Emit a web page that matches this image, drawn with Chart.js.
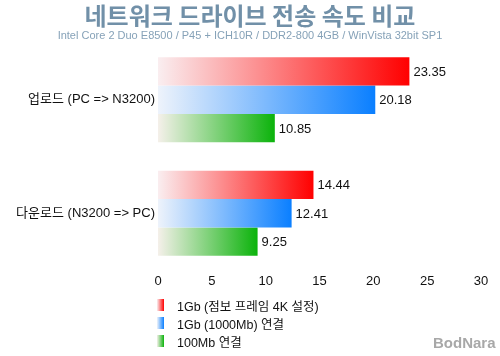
<!DOCTYPE html>
<html><head><meta charset="utf-8">
<script src="https://cdn.jsdelivr.net/npm/chart.js@4"></script>
<style>
html,body{margin:0;padding:0;background:#fff;}
#wrap{position:relative;width:500px;height:356px;overflow:hidden;font-family:"Liberation Sans","Noto Sans CJK KR",sans-serif;}
#c{position:absolute;left:0;top:0;}
#title{position:absolute;left:0;width:500px;top:1px;text-align:center;font:bold 24px "Noto Sans CJK KR","Liberation Sans",sans-serif;color:#7190a8;line-height:28px;height:28px;}
#sub{position:absolute;left:0;width:500px;top:29px;text-align:center;font:11px "Liberation Sans",sans-serif;color:#86a2b8;line-height:13px;}
#legend{position:absolute;left:157px;top:296px;font:12.5px "Liberation Sans","Noto Sans CJK KR",sans-serif;color:#111;}
.li{height:18px;display:flex;align-items:center;}
.sw{width:7px;height:12px;margin-right:13px;}
#wm{position:absolute;left:433px;top:334px;font:bold 15px "Liberation Sans",sans-serif;color:#a8a8a8;line-height:18px;}
</style></head>
<body>
<div id="wrap">
<canvas id="c" width="500" height="356"></canvas>
<div id="title">네트워크 드라이브 전송 속도 비교</div>
<div id="sub">Intel Core 2 Duo E8500 / P45 + ICH10R / DDR2-800 4GB / WinVista 32bit SP1</div>
<div id="legend"></div>
<div id="wm">BodNara</div>
</div>
<script>
const categories = ['업로드 (PC => N3200)', '다운로드 (N3200 => PC)'];
const seriesLabels = ['1Gb (점보 프레임 4K 설정)', '1Gb (1000Mb) 연결', '100Mb 연결'];
const jumbo1Gb = [23.35, 14.44];
const normal1Gb = [20.18, 12.41];
const fast100Mb = [10.85, 9.25];
const xTicks = [0, 5, 10, 15, 20, 25, 30];

const gradStops = [
  ['#faeef0', '#ff0000'],
  ['#eef3fb', '#0a7fff'],
  ['#f5f0ea', '#0bb30b']
];

function makeGrad(stops) {
  return function(ctx) {
    const chart = ctx.chart;
    const xs = chart.scales && chart.scales.x;
    if (!chart.chartArea || !xs || ctx.raw === undefined) return stops[1];
    const x0 = xs.getPixelForValue(0);
    const x1 = xs.getPixelForValue(ctx.raw);
    const g = chart.ctx.createLinearGradient(x0, 0, x1, 0);
    g.addColorStop(0, stops[0]);
    g.addColorStop(1, stops[1]);
    return g;
  };
}

const seriesData = [jumbo1Gb, normal1Gb, fast100Mb];

const valueLabels = {
  id: 'valueLabels',
  afterDatasetsDraw(chart) {
    const c = chart.ctx;
    c.save();
    c.font = '13px "Liberation Sans", sans-serif';
    c.fillStyle = '#111';
    c.textAlign = 'left';
    c.textBaseline = 'middle';
    chart.data.datasets.forEach((ds, i) => {
      const meta = chart.getDatasetMeta(i);
      meta.data.forEach((el, j) => {
        c.fillText(ds.data[j].toFixed(2), el.x + 4, el.y + 1);
      });
    });
    c.restore();
  }
};

new Chart(document.getElementById('c'), {
  type: 'bar',
  data: {
    labels: categories,
    datasets: seriesLabels.map((l, i) => ({
      label: l,
      data: seriesData[i],
      backgroundColor: makeGrad(gradStops[i]),
      borderWidth: 0,
      categoryPercentage: 0.75,
      barPercentage: 1.0
    }))
  },
  options: {
    indexAxis: 'y',
    responsive: false,
    animation: false,
    layout: { padding: { top: 43, bottom: 66, right: 19, left: 0 } },
    plugins: { legend: { display: false }, title: { display: false }, tooltip: { enabled: false } },
    scales: {
      x: {
        min: 0, max: 30,
        grid: { display: false, drawTicks: false },
        border: { display: false },
        afterBuildTicks(s) { s.ticks = xTicks.map(v => ({ value: v })); },
        afterFit(s) { s.height = 20; },
        ticks: { padding: 4, color: '#111', font: { size: 13, family: '"Liberation Sans", sans-serif' } }
      },
      y: {
        grid: { display: false, drawTicks: false },
        border: { display: false },
        afterFit(s) { s.width = 158; },
        ticks: { padding: 3, color: '#111', font: { size: 13, family: '"Liberation Sans", "Noto Sans CJK KR", sans-serif' } }
      }
    }
  },
  plugins: [valueLabels]
});

const lg = document.getElementById('legend');
seriesLabels.forEach((l, i) => {
  const d = document.createElement('div');
  d.className = 'li';
  const sw = document.createElement('span');
  sw.className = 'sw';
  sw.style.background = 'linear-gradient(to right,' + gradStops[i][0] + ',' + gradStops[i][1] + ')';
  const t = document.createElement('span');
  t.textContent = l;
  d.appendChild(sw); d.appendChild(t);
  lg.appendChild(d);
});
</script>
</body></html>
